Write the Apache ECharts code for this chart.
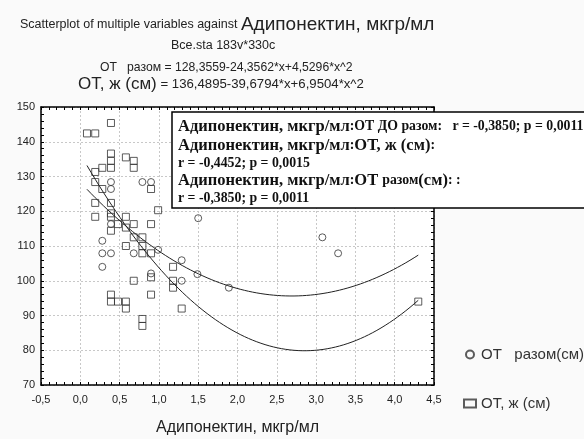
<!DOCTYPE html>
<html>
<head>
<meta charset="utf-8">
<script src="https://cdn.jsdelivr.net/npm/echarts@6/dist/echarts.min.js"></script>
<style>html,body{margin:0;padding:0;background:#fafafa;}#c{width:584px;height:439px;}</style>
</head>
<body>
<div id="c"></div>
<script>
// Series: ОТ разом(см) (circles)
const razomX = [0.39,0.39,0.79,0.90,0.39,0.28,0.28,0.39,0.28,0.68,0.99,0.90,1.29,1.49,1.29,1.89,1.50,3.08,3.28];
const razomY = [128.4,126.4,128.4,128.4,116.3,111.5,107.9,107.9,104.0,107.9,108.9,102.1,105.9,101.9,100.0,98.0,118.0,112.5,107.9];
// Series: ОТ, ж (см) (squares)
const zhX = [0.39,0.085,0.19,0.39,0.39,0.39,0.28,0.19,0.58,0.68,0.68,0.19,0.28,0.90,0.19,0.39,0.99,0.19,0.39,0.39,0.58,0.48,0.68,0.58,0.90,0.39,0.68,0.79,0.58,0.79,0.79,0.90,0.68,0.90,0.90,0.39,0.39,0.48,0.58,0.58,0.79,0.79,1.18,1.18,1.18,1.29,4.30];
const zhY = [145.4,142.4,142.4,136.6,134.5,132.5,132.5,131.3,135.5,134.5,132.5,128.4,126.4,126.4,122.4,122.4,120.3,118.4,119.4,118.4,118.4,116.3,116.3,115.3,116.3,114.4,112.5,112.5,110.0,110.0,107.9,107.9,100.0,101.0,96.0,96.0,94.0,94.0,94.0,92.0,89.0,87.0,104.0,100.0,98.0,92.0,94.0];
// Fitted quadratic coefficients printed on the chart
const razomCoef = [128.3559, -24.3562, 4.5296];
const zhCoef = [136.4895, -39.6794, 6.9504];
const fitRange = [0.085, 4.30];
const xTickLabels = ['-0,5','0,0','0,5','1,0','1,5','2,0','2,5','3,0','3,5','4,0','4,5'];
const yTickLabels = ['70','80','90','100','110','120','130','140','150'];

function fitCurve(c){
  const pts=[]; const n=80;
  for(let i=0;i<=n;i++){const x=fitRange[0]+(fitRange[1]-fitRange[0])*i/n; pts.push([x,c[0]+c[1]*x+c[2]*x*x]);}
  return pts;
}
const zip=(a,b)=>a.map((v,i)=>[v,b[i]]);
const SANS='Liberation Sans, Arial, sans-serif';
const SERIF='Liberation Serif, Times New Roman, serif';
const ax={min:-0.5,max:4.5,interval:0.5};
const ay={min:70,max:150,interval:10};
const tickCommon={axisLine:{show:true,onZero:false,lineStyle:{color:'#000',width:1.5}},axisTick:{show:true,inside:true,length:3,lineStyle:{color:'#000'}},minorTick:{show:true,splitNumber:5,length:3,lineStyle:{color:'#000'}}};
const N={fontWeight:'normal',fontFamily:SANS,color:'#222'};
const chart=echarts.init(document.getElementById('c'),null,{renderer:'canvas'});
chart.setOption({
  backgroundColor:'#fafafa',
  animation:false,
  title:[
    {left:20,top:15,padding:0,text:'{a|Scatterplot of multiple variables against }{b|Адипонектин, мкгр/мл}',textStyle:{fontWeight:'normal',rich:{a:Object.assign({fontSize:12.5},N),b:Object.assign({fontSize:19},N)}}},
    {left:171,top:39,padding:0,text:'Все.sta 183v*330c',textStyle:Object.assign({fontSize:12.5},N)},
    {left:100,top:62,padding:0,text:'ОТ   разом = 128,3559-24,3562*x+4,5296*x^2',textStyle:Object.assign({fontSize:12.2},N)},
    {left:78,top:76,padding:0,text:'{b|ОТ, ж (см)}{a| = 136,4895-39,6794*x+6,9504*x^2}',textStyle:{fontWeight:'normal',rich:{a:Object.assign({fontSize:13.2},N),b:Object.assign({fontSize:17},N)}}},
    {left:172,top:111,padding:[6,6,3,6],backgroundColor:'#fff',borderColor:'#000',borderWidth:1.5,
     text:'{b|Адипонектин, мкгр/мл}{s|:ОТ ДО разом:   r = -0,3850; p = 0,0011}\n{b|Адипонектин, мкгр/мл}{s|:}{b|ОТ, ж (см)}{s|:}\n{s|r = -0,4452; p = 0,0015}\n{b|Адипонектин, мкгр/мл}{s|:}{b|ОТ }{s|разом}{b|(см)}{s|: :}\n{s|r = -0,3850; p = 0,0011}',
     textStyle:{rich:{b:{fontFamily:SERIF,fontWeight:'bold',fontSize:16.5,color:'#111',lineHeight:19},s:{fontFamily:SERIF,fontWeight:'bold',fontSize:13.8,color:'#111',lineHeight:16}}}}
  ],
  legend:{orient:'vertical',left:458,top:342,itemGap:34,itemWidth:12,itemHeight:8,
    textStyle:{fontFamily:SANS,fontSize:15,color:'#333'},
    data:[{name:'ОТ   разом(см)',icon:'circle'},{name:'ОТ, ж (см)',icon:'rect'}]},
  grid:{left:41,right:150,top:107,bottom:54,show:true,backgroundColor:'#fff',borderWidth:0,containLabel:false,outerBoundsMode:'none'},
  xAxis:[
    Object.assign({type:'value',position:'bottom',min:ax.min,max:ax.max,interval:ax.interval,
      name:'Адипонектин, мкгр/мл',nameLocation:'middle',nameGap:35,nameTextStyle:{fontFamily:SANS,fontSize:16,color:'#222'},
      axisLabel:{fontFamily:SANS,fontSize:11,color:'#222',margin:9,formatter:v=>xTickLabels[Math.round((v-ax.min)/ax.interval)]},
      splitLine:{show:true,lineStyle:{color:'#c8c8c8',type:[2,2],width:1}}},tickCommon),
    Object.assign({type:'value',position:'top',min:ax.min,max:ax.max,interval:ax.interval,axisLabel:{show:false},splitLine:{show:false}},tickCommon)
  ],
  yAxis:[
    Object.assign({type:'value',position:'left',min:ay.min,max:ay.max,interval:ay.interval,
      axisLabel:{fontFamily:SANS,fontSize:11,color:'#222',margin:6,formatter:v=>yTickLabels[Math.round((v-ay.min)/ay.interval)]},
      splitLine:{show:true,lineStyle:{color:'#c8c8c8',type:[2,2],width:1}}},tickCommon),
    Object.assign({type:'value',position:'right',min:ay.min,max:ay.max,interval:ay.interval,axisLabel:{show:false},splitLine:{show:false}},tickCommon)
  ],
  series:[
    {name:'ОТ   разом(см)',type:'scatter',symbol:'circle',symbolSize:7,data:zip(razomX,razomY),
      itemStyle:{color:'rgba(0,0,0,0)',borderColor:'#333',borderWidth:1},z:3},
    {name:'ОТ, ж (см)',type:'scatter',symbol:'rect',symbolSize:7,data:zip(zhX,zhY),
      itemStyle:{color:'rgba(0,0,0,0)',borderColor:'#333',borderWidth:1},z:3},
    {name:'fit razom',type:'line',data:fitCurve(razomCoef),showSymbol:false,symbol:'none',smooth:false,lineStyle:{color:'#222',width:1},z:4},
    {name:'fit zh',type:'line',data:fitCurve(zhCoef),showSymbol:false,symbol:'none',smooth:false,lineStyle:{color:'#222',width:1},z:4}
  ]
});
</script>
</body>
</html>
